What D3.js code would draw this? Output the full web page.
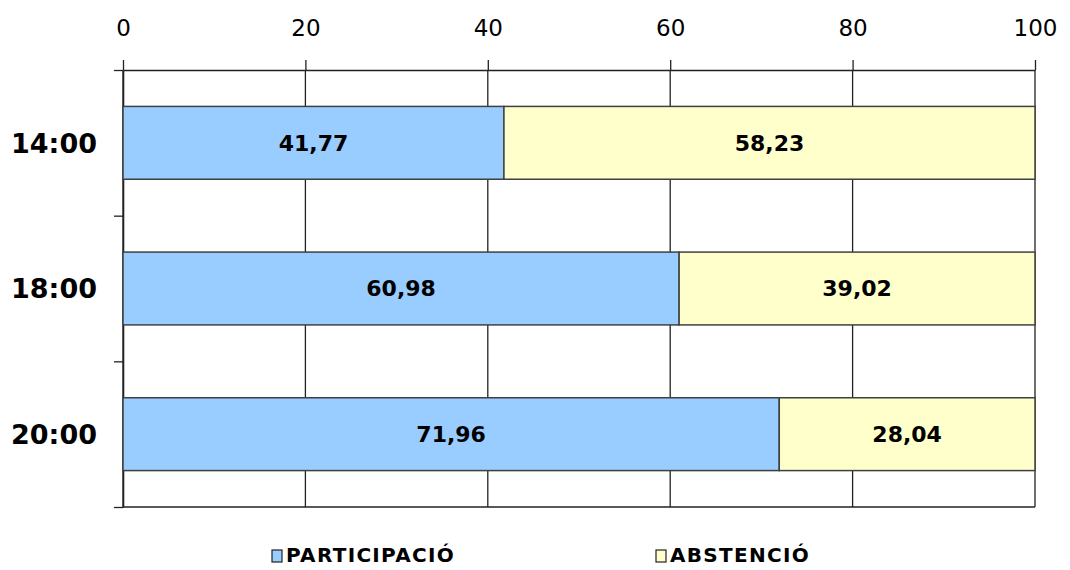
<!DOCTYPE html>
<html>
<head>
<meta charset="utf-8">
<script src="https://cdn.jsdelivr.net/npm/d3@7"></script>
<style>
  body { margin: 0; background: #fff; }
  svg { display: block; }
</style>
</head>
<body>
<div id="chart"></div>
<script>
// Data
const hours = ['14:00', '18:00', '20:00'];
const participacio = [41.77, 60.98, 71.96];
const abstencio = [58.23, 39.02, 28.04];
const xTicks = [0, 20, 40, 60, 80, 100];
const seriesNames = ['PARTICIPACIÓ', 'ABSTENCIÓ'];
const seriesColors = ['#99ccff', '#ffffcc'];

const width = 1070;
const height = 570;
const margin = { top: 70, right: 35, bottom: 63, left: 123 };

const fmt = d3.formatLocale({ decimal: ',', thousands: '.', grouping: [3], currency: ['', ''] }).format('.2f');

const svg = d3.select('#chart')
    .append('svg')
    .attr('width', width)
    .attr('height', height);

const x = d3.scaleLinear()
    .domain([0, 100])
    .range([margin.left, width - margin.right]);

const y = d3.scaleBand()
    .domain(hours)
    .range([margin.top, height - margin.bottom])
    .paddingInner(0.5)
    .paddingOuter(0.25);

// edges of the category bands, for the left axis ticks
const yEdges = d3.scaleLinear()
    .domain([0, hours.length])
    .range([margin.top, height - margin.bottom]);

const lineColor = '#222';

// vertical grid lines
svg.append('g')
    .selectAll('line')
    .data(xTicks)
    .enter()
    .append('line')
    .attr('x1', d => x(d))
    .attr('x2', d => x(d))
    .attr('y1', margin.top)
    .attr('y2', height - margin.bottom)
    .attr('stroke', lineColor)
    .attr('stroke-width', 1.3);

// bottom line of plot area
svg.append('line')
    .attr('x1', margin.left)
    .attr('x2', x(100))
    .attr('y1', height - margin.bottom)
    .attr('y2', height - margin.bottom)
    .attr('stroke', lineColor)
    .attr('stroke-width', 1.3);

// Top axis
const topAxis = svg.append('g')
    .attr('transform', `translate(0,${margin.top})`)
    .call(d3.axisTop(x).tickValues(xTicks).tickSize(10).tickSizeOuter(0).tickPadding(24));
topAxis.select('.domain').attr('stroke', lineColor).attr('stroke-width', 1.3);
topAxis.selectAll('.tick line').attr('stroke', lineColor).attr('stroke-width', 1.3);
topAxis.selectAll('.tick text')
    .attr('font-family', 'DejaVu Sans, Verdana, sans-serif')
    .attr('font-size', '23px')
    .attr('fill', '#000');

// Left axis (tick marks only on band edges)
const leftAxis = svg.append('g')
    .attr('transform', `translate(${margin.left},0)`)
    .call(d3.axisLeft(yEdges).tickValues(d3.range(hours.length + 1)).tickSize(9).tickSizeOuter(0).tickFormat(''));
leftAxis.select('.domain').attr('stroke', lineColor).attr('stroke-width', 1.6);
leftAxis.selectAll('.tick line').attr('stroke', lineColor).attr('stroke-width', 1.3);

// Category labels
svg.append('g')
    .selectAll('text')
    .data(hours)
    .enter()
    .append('text')
    .attr('x', 97)
    .attr('y', d => y(d) + y.bandwidth() / 2)
    .attr('dy', '0.36em')
    .attr('text-anchor', 'end')
    .attr('font-family', 'DejaVu Sans, Verdana, sans-serif')
    .attr('font-weight', 'bold')
    .attr('font-size', '27px')
    .text(d => d);

// Stacked bars
const rows = hours.map((h, i) => ({ hour: h, values: [participacio[i], abstencio[i]] }));
const segments = rows.flatMap(r => {
    let start = 0;
    return r.values.map((v, k) => {
        const seg = { hour: r.hour, k, x0: start, x1: start + v, value: v };
        start += v;
        return seg;
    });
});

svg.append('g')
    .selectAll('rect')
    .data(segments)
    .enter()
    .append('rect')
    .attr('x', d => x(d.x0))
    .attr('y', d => y(d.hour))
    .attr('width', d => x(d.x1) - x(d.x0))
    .attr('height', y.bandwidth())
    .attr('fill', d => seriesColors[d.k])
    .attr('stroke', '#404040')
    .attr('stroke-width', 1.5);

svg.append('g')
    .selectAll('text')
    .data(segments)
    .enter()
    .append('text')
    .attr('x', d => (x(d.x0) + x(d.x1)) / 2)
    .attr('y', d => y(d.hour) + y.bandwidth() / 2)
    .attr('dy', '0.36em')
    .attr('text-anchor', 'middle')
    .attr('font-family', 'DejaVu Sans, Verdana, sans-serif')
    .attr('font-weight', 'bold')
    .attr('font-size', '22px')
    .text(d => fmt(d.value));

// Legend
const legendX = [272, 656];
const legend = svg.append('g')
    .selectAll('g')
    .data(seriesNames)
    .enter()
    .append('g')
    .attr('transform', (d, i) => `translate(${legendX[i]},555)`);

legend.append('rect')
    .attr('x', 0)
    .attr('y', -5)
    .attr('width', 10)
    .attr('height', 12)
    .attr('fill', (d, i) => seriesColors[i])
    .attr('stroke', '#222')
    .attr('stroke-width', 1.2);

legend.append('text')
    .attr('x', 14)
    .attr('y', 0)
    .attr('dy', '0.36em')
    .attr('font-family', 'DejaVu Sans, Verdana, sans-serif')
    .attr('font-weight', 'bold')
    .attr('font-size', '20px')
    .attr('letter-spacing', '1.3px')
    .text(d => d);
</script>
</body>
</html>
